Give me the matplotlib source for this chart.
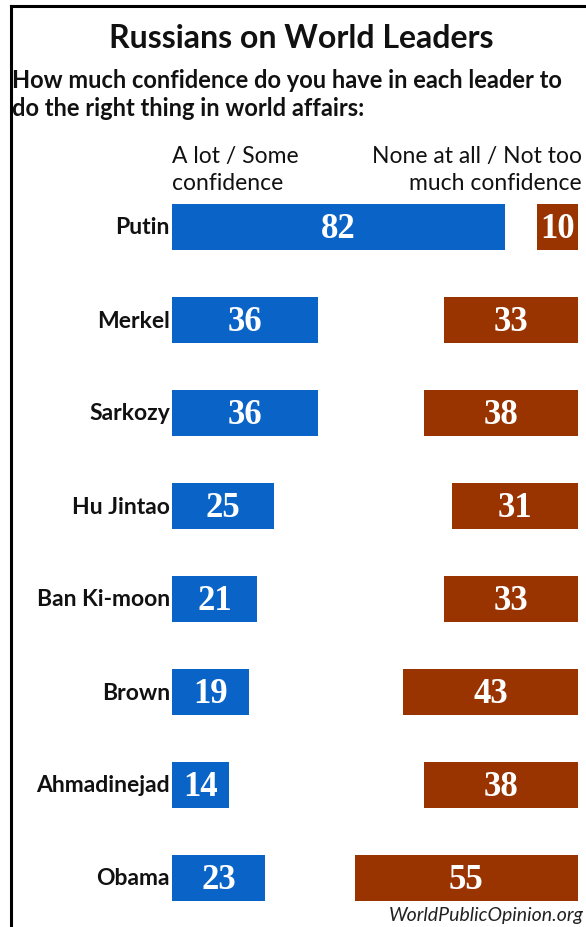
import matplotlib
matplotlib.use("Agg")
import matplotlib.pyplot as plt
from matplotlib.lines import Line2D

# data
leaders = ["Putin", "Merkel", "Sarkozy", "Hu Jintao", "Ban Ki-moon", "Brown", "Ahmadinejad", "Obama"]
confidence = [82, 36, 36, 25, 21, 19, 14, 23]
no_confidence = [10, 33, 38, 31, 33, 43, 38, 55]

BLUE = "#0a64c8"
BROWN = "#993300"
W, H = 586, 928

plt.rcParams["font.family"] = ["Lato", "DejaVu Sans"]
fig = plt.figure(figsize=(W / 100, H / 100), dpi=100)

# axes spans x 172..578 px, full height; rows mapped by ylim
ax = fig.add_axes([172 / W, 0, 406 / W, 1])
row0, step = 228, 93
ax.set_ylim((H - row0) / step, -row0 / step)
ax.set_xlim(0, 100)
ax.axis("off")

ys = list(range(len(leaders)))
right = [100 - v for v in no_confidence]
ax.barh(ys, confidence, left=0, height=0.49, color=BLUE)
ax.barh(ys, no_confidence, left=right, height=0.49, color=BROWN)

num_font = dict(family="Liberation Serif", fontweight="bold", fontsize=25, color="white",
                ha="center", va="center")
for y, name, a, b, r in zip(ys, leaders, confidence, no_confidence, right):
    ax.text(a / 2, y + 0.02, str(a), **num_font)
    ax.text(r + b / 2, y + 0.02, str(b), **num_font)
    ax.text(-0.5, y, name, ha="right", va="center", fontsize=16.5, fontweight="bold",
            color="#111111", clip_on=False)

def fy(px):
    return 1 - px / H

fig.text(301 / W, fy(38), "Russians on World Leaders", ha="center", va="center",
         fontsize=23, fontweight="bold", color="#111111")
fig.text(12 / W, fy(80), "How much confidence do you have in each leader to",
         ha="left", va="center", fontsize=17, fontweight="bold", color="#111111")
fig.text(12 / W, fy(108), "do the right thing in world affairs:",
         ha="left", va="center", fontsize=17, fontweight="bold", color="#111111")
fig.text(172 / W, fy(157), "A lot / Some", ha="left", va="center", fontsize=16.5, color="#111111")
fig.text(172 / W, fy(183), "confidence", ha="left", va="center", fontsize=16.5, color="#111111")
fig.text(582 / W, fy(157), "None at all / Not too", ha="right", va="center", fontsize=16.5, color="#111111")
fig.text(582 / W, fy(183), "much confidence", ha="right", va="center", fontsize=16.5, color="#111111")
fig.text(584 / W, fy(916), "WorldPublicOpinion.org", ha="right", va="center",
         fontsize=14, style="italic", color="#222222")

# frame lines on left and top
fig.add_artist(Line2D([11 / W, 11 / W], [0, fy(7)], color="black", lw=2.2,
                      transform=fig.transFigure))
fig.add_artist(Line2D([11 / W, 1], [fy(7), fy(7)], color="black", lw=2.2,
                      transform=fig.transFigure))

fig.savefig("out.png", dpi=100)
